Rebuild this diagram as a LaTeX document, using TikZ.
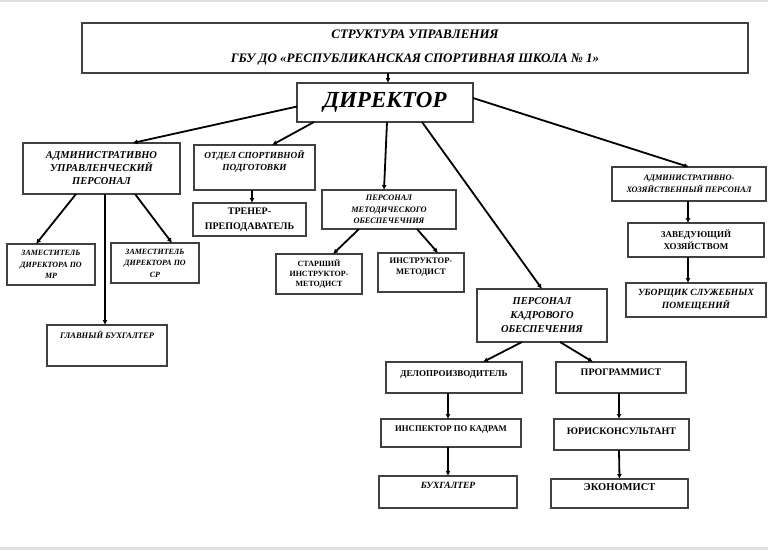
\documentclass[tikz,border=0pt]{standalone}
\usepackage{fontspec}
\setmainfont{Liberation Serif}
\usetikzlibrary{arrows.meta}
\begin{document}
\begin{tikzpicture}[x=1pt, y=-1pt]
        \tikzstyle{block} = [draw=black!75, line width=1.2pt, outer sep=0pt, inner sep=1pt, align=center]
        \tikzstyle{arr} = [line width=1.8pt, -{Latex[length=5pt,width=5pt]}]

		\useasboundingbox (0,0) rectangle (768,550);
		\fill[black!12] (0,0) rectangle (768,2);
		\fill[black!12] (0,547) rectangle (768,550);

		\node[block, minimum width=666pt, minimum height=50pt, font=\fontsize{13}{24}\selectfont\bfseries\itshape] (title) at (415,48) {СТРУКТУРА УПРАВЛЕНИЯ\\ГБУ ДО «РЕСПУБЛИКАНСКАЯ СПОРТИВНАЯ ШКОЛА № 1»};
		\node[block, minimum width=176pt, minimum height=39pt, font=\fontsize{23}{26}\selectfont\bfseries\itshape] (dir) at (385,102.5) {ДИРЕКТОР};

		\node[block, minimum width=157pt, minimum height=51pt, font=\fontsize{10.5}{13}\selectfont\bfseries\itshape] (aup) at (101.5,168.5) {АДМИНИСТРАТИВНО\\УПРАВЛЕНЧЕСКИЙ\\ПЕРСОНАЛ};
		\node[block, minimum width=88pt, minimum height=41pt, font=\fontsize{8}{11.5}\selectfont\bfseries\itshape] (zammr) at (51,264.5) {ЗАМЕСТИТЕЛЬ\\ДИРЕКТОРА ПО\\МР};
		\node[block, minimum width=88pt, minimum height=40pt, font=\fontsize{8}{11.5}\selectfont\bfseries\itshape] (zamsr) at (155,263) {ЗАМЕСТИТЕЛЬ\\ДИРЕКТОРА ПО\\СР};
		\node[block, minimum width=120pt, minimum height=41pt, text height=5.6pt, text depth=20pt, font=\fontsize{8.5}{10}\selectfont\bfseries\itshape] (glavbuh) at (107,345.5) {ГЛАВНЫЙ БУХГАЛТЕР};

		\node[block, minimum width=121pt, minimum height=45pt, font=\fontsize{9.3}{12}\selectfont\bfseries\itshape] (osp) at (254.5,167.5) {ОТДЕЛ СПОРТИВНОЙ\\ПОДГОТОВКИ\\[3pt]\mbox{}};
		\node[block, minimum width=113pt, minimum height=33pt, font=\fontsize{10}{15}\selectfont\bfseries] (trener) at (249.5,219.5) {ТРЕНЕР-\\ПРЕПОДАВАТЕЛЬ};

		\node[block, minimum width=134pt, minimum height=39pt, font=\fontsize{8.3}{11.5}\selectfont\bfseries\itshape] (metod) at (389,209.5) {ПЕРСОНАЛ\\МЕТОДИЧЕСКОГО\\ОБЕСПЕЧЕЧНИЯ};
		\node[block, minimum width=86pt, minimum height=40pt, font=\fontsize{8}{10}\selectfont\bfseries] (starsh) at (319,274) {СТАРШИЙ\\ИНСТРУКТОР-\\МЕТОДИСТ};
		\node[block, minimum width=86pt, minimum height=39pt, font=\fontsize{8.5}{11}\selectfont\bfseries] (instr) at (421,272.5) {ИНСТРУКТОР-\\МЕТОДИСТ\\[1pt]\mbox{}};

		\node[block, minimum width=154pt, minimum height=34pt, font=\fontsize{8.3}{12}\selectfont\bfseries\itshape] (hoz) at (689,184) {АДМИНИСТРАТИВНО-\\ХОЗЯЙСТВЕННЫЙ ПЕРСОНАЛ};
		\node[block, minimum width=136pt, minimum height=34pt, font=\fontsize{9}{12}\selectfont\bfseries] (zav) at (696,240) {ЗАВЕДУЮЩИЙ\\ХОЗЯЙСТВОМ};
		\node[block, minimum width=140pt, minimum height=34pt, font=\fontsize{9.5}{13}\selectfont\bfseries\itshape] (ubor) at (696,300) {УБОРЩИК СЛУЖЕБНЫХ\\ПОМЕЩЕНИЙ};

		\node[block, minimum width=130pt, minimum height=53pt, font=\fontsize{10.5}{14}\selectfont\bfseries\itshape] (kadr) at (542,315.5) {ПЕРСОНАЛ\\КАДРОВОГО\\ОБЕСПЕЧЕНИЯ};
		\node[block, minimum width=136pt, minimum height=31pt, text height=6pt, text depth=9pt, font=\fontsize{9}{11}\selectfont\bfseries] (delo) at (454,377.5) {ДЕЛОПРОИЗВОДИТЕЛЬ};
		\node[block, minimum width=140pt, minimum height=28pt, text height=5.8pt, text depth=8pt, font=\fontsize{8.7}{10}\selectfont\bfseries] (insp) at (451,433) {ИНСПЕКТОР ПО КАДРАМ};
		\node[block, minimum width=138pt, minimum height=32pt, text height=6.3pt, text depth=14pt, font=\fontsize{9.5}{11}\selectfont\bfseries\itshape] (buh) at (448,492) {БУХГАЛТЕР};
		\node[block, minimum width=130pt, minimum height=31pt, text height=6.6pt, text depth=11pt, font=\fontsize{10}{12}\selectfont\bfseries] (prog) at (621,377.5) {ПРОГРАММИСТ};
		\node[block, minimum width=135pt, minimum height=31pt, text height=6.6pt, text depth=7pt, font=\fontsize{10}{12}\selectfont\bfseries] (juris) at (621.5,434.5) {ЮРИСКОНСУЛЬТАНТ};
		\node[block, minimum width=137pt, minimum height=29pt, text height=6.9pt, text depth=13pt, font=\fontsize{10.5}{12}\selectfont\bfseries] (econ) at (619.5,493.5) {ЭКОНОМИСТ};

		\draw[arr] ([xshift=-27pt]title.south) -- ([xshift=3pt]dir.north);
		\draw[arr] ([yshift=-4pt]dir.west) -- ([xshift=31pt]aup.north);
		\draw[arr] ([xshift=17pt]dir.south west) -- ([xshift=17.5pt]osp.north);
		\draw[arr] ([xshift=2pt]dir.south) -- ([xshift=-5pt]metod.north);
		\draw[arr] ([xshift=37pt]dir.south) -- (kadr.north);
		\draw[arr] ([yshift=4.5pt]dir.east) -- (hoz.north);

		\draw[arr] ([xshift=-25.5pt]aup.south) -- ([xshift=-15pt]zammr.north);
		\draw[arr] ([xshift=3.5pt]aup.south) -- ([xshift=-2pt]glavbuh.north);
		\draw[arr] ([xshift=33.5pt]aup.south) -- ([xshift=17pt]zamsr.north);
		\draw[arr] ([xshift=-2.5pt]osp.south) -- ([xshift=2.5pt]trener.north);
		\draw[arr] ([xshift=-30pt]metod.south) -- ([xshift=14pt]starsh.north);
		\draw[arr] ([xshift=28pt]metod.south) -- ([xshift=17pt]instr.north);
		\draw[arr] ([xshift=-1pt]hoz.south) -- ([xshift=-8pt]zav.north);
		\draw[arr] ([xshift=-8pt]zav.south) -- ([xshift=-8pt]ubor.north);

		\draw[arr] ([xshift=-20pt]kadr.south) -- ([xshift=29pt]delo.north);
		\draw[arr] ([xshift=18pt]kadr.south) -- ([xshift=-28pt]prog.north);
		\draw[arr] ([xshift=-6pt]delo.south) -- ([xshift=-3pt]insp.north);
		\draw[arr] ([xshift=-3pt]insp.south) -- (buh.north);
		\draw[arr] ([xshift=-2pt]prog.south) -- ([xshift=-2.5pt]juris.north);
		\draw[arr] ([xshift=-2.5pt]juris.south) -- (econ.north);

    \end{tikzpicture}
\end{document}
